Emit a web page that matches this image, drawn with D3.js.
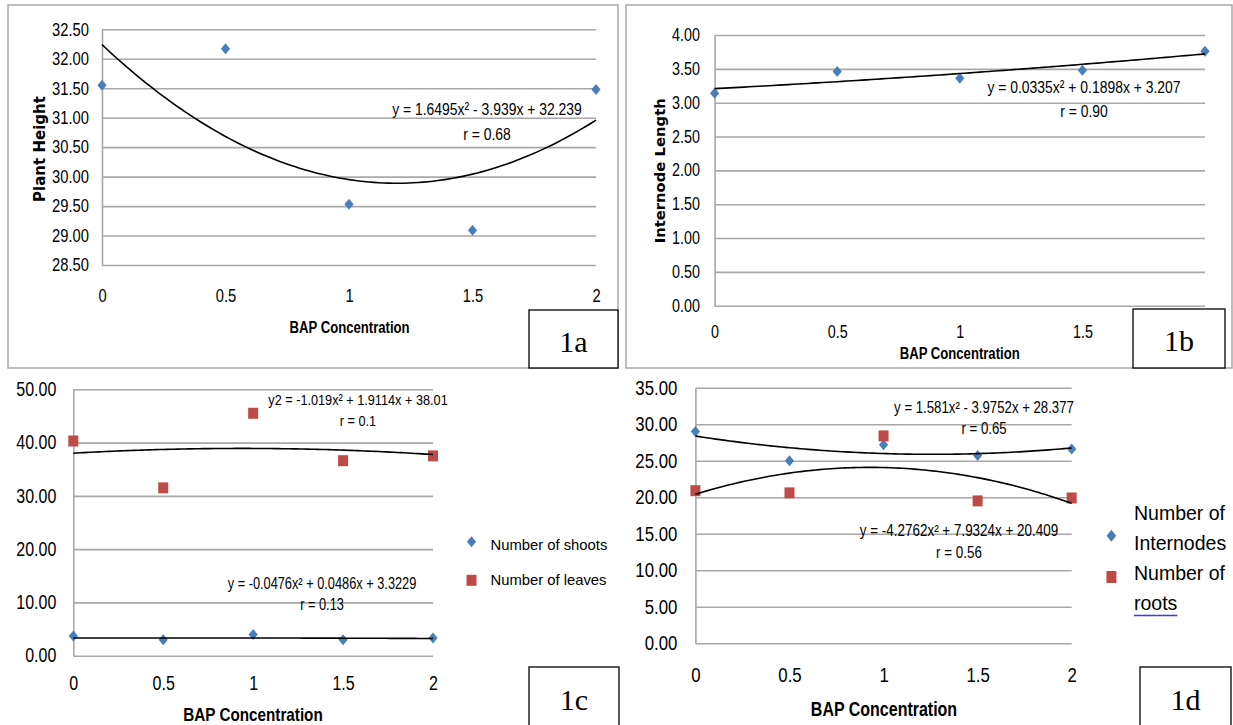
<!DOCTYPE html>
<html>
<head>
<meta charset="utf-8">
<script src="https://cdn.jsdelivr.net/npm/d3@7"></script>
<style>
  body { margin: 0; background: #fff; }
</style>
</head>
<body>
<svg id="fig" width="1233" height="725"></svg>
<script>
// BAP concentration levels (x axis of every panel)
var bapLevels = [0, 0.5, 1, 1.5, 2];

// values
var plantHeight     = [31.55, 32.17, 29.53, 29.09, 31.48];
var internodeLength = [3.14, 3.46, 3.36, 3.48, 3.76];
var shootCount      = [3.7, 3.0, 4.0, 3.0, 3.3];
var leafCount       = [40.3, 31.5, 45.5, 36.6, 37.5];
var internodeCount  = [29.0, 25.0, 27.2, 25.7, 26.6];
var rootCount       = [20.9, 20.6, 28.4, 19.5, 19.9];

// printed polynomial trendlines [a, b, c] for a*x^2 + b*x + c
var fitPlantHeight     = [1.6495, -3.939, 32.239];
var fitInternodeLength = [0.0335, 0.1898, 3.207];
var fitShoots          = [-0.0476, 0.0486, 3.3229];
var fitLeaves          = [-1.019, 1.9114, 38.01];
var fitInternodes      = [1.581, -3.9752, 28.377];
var fitRoots           = [-4.2762, 7.9324, 20.409];

// printed equation labels
var eqPlantHeight     = ["y = 1.6495x² - 3.939x + 32.239", "r = 0.68"];
var eqInternodeLength = ["y = 0.0335x² + 0.1898x + 3.207", "r = 0.90"];
var eqLeaves          = ["y2 = -1.019x² + 1.9114x + 38.01", "r = 0.1"];
var eqShoots          = ["y = -0.0476x² + 0.0486x + 3.3229", "r = 0.13"];
var eqInternodes      = ["y = 1.581x² - 3.9752x + 28.377", "r = 0.65"];
var eqRoots           = ["y = -4.2762x² + 7.9324x + 20.409", "r = 0.56"];

// tick values
var xTicks  = [0, 0.5, 1, 1.5, 2];
var yTicksA = [28.5, 29, 29.5, 30, 30.5, 31, 31.5, 32, 32.5];
var yTicksB = [0, 0.5, 1, 1.5, 2, 2.5, 3, 3.5, 4];
var yTicksC = [0, 10, 20, 30, 40, 50];
var yTicksD = [0, 5, 10, 15, 20, 25, 30, 35];

// no narrow font installed, so squeeze Liberation Sans horizontally
var K = 0.82;
var sans = '"Liberation Sans",Arial,sans-serif';
var blue = "#4a7ebb", red = "#be4b48", grid = "#a8a8a8";

var shapes = {
  diamond: "M0,-5.5L4.6,0L0,5.5L-4.6,0Z",
  square: "M-5,-5.5h10v11h-10Z",
  bigDiamond: "M0,-6L4.8,0L0,6L-4.8,0Z",
  bigSquare: "M-5,-6h10v12h-10Z"
};

var svg = d3.select("#fig");

// gray frames round the top two charts
svg.append("rect").attr("x", 8).attr("y", 5).attr("width", 610).attr("height", 363)
  .attr("fill", "none").attr("stroke", grid).attr("stroke-width", 1.5);
svg.append("rect").attr("x", 626).attr("y", 5).attr("width", 606).attr("height", 363)
  .attr("fill", "none").attr("stroke", grid).attr("stroke-width", 1.5);

function poly(c) { return function(v) { return c[0] * v * v + c[1] * v + c[2]; }; }

// narrow text helper
function ntext(g, x, y, str, size, anchor, bold) {
  return g.append("text")
    .attr("transform", "translate(" + x + "," + y + ") scale(" + K + ",1)")
    .attr("text-anchor", anchor || "middle")
    .attr("font-family", sans).attr("font-size", size)
    .attr("font-weight", bold ? "bold" : null)
    .text(str);
}

function drawPanel(p) {
  var g = svg.append("g");
  var x = d3.scaleLinear().domain([0, 2]).range([p.left, p.right]);
  var y = d3.scaleLinear().domain(d3.extent(p.yTicks)).range([p.bottom, p.top]);

  // y axis with gridlines
  g.append("g")
      .attr("transform", "translate(" + p.left + ",0)")
      .call(d3.axisLeft(y).tickValues(p.yTicks).tickFormat(d3.format(".2f"))
        .tickSize(-(p.right - p.left)).tickSizeOuter(0).tickPadding(p.yPad))
      .attr("font-family", sans).attr("font-size", p.tickSize)
      .call(function(a) {
        a.select(".domain").attr("stroke", grid).attr("stroke-width", 1.6);
        a.selectAll(".tick line").attr("stroke", grid).attr("stroke-width", 1.6);
        a.selectAll("text").attr("fill", "#000")
          .attr("x", -p.yPad / K).attr("transform", "scale(" + K + ",1)");
      });

  // x axis labels only
  g.append("g")
      .attr("transform", "translate(0," + p.bottom + ")")
      .call(d3.axisBottom(x).tickValues(xTicks).tickFormat(d3.format("")).tickSize(0).tickPadding(p.xPad))
      .attr("font-family", sans).attr("font-size", p.tickSize)
      .call(function(a) {
        a.select(".domain").remove();
        a.selectAll("text").attr("fill", "#000").attr("transform", "scale(" + K + ",1)");
      });

  // markers
  p.series.forEach(function(s) {
    g.append("g").selectAll("path")
      .data(d3.zip(bapLevels, s.values))
      .join("path")
        .attr("d", shapes[s.shape])
        .attr("transform", function(d) { return "translate(" + x(d[0]) + "," + y(d[1]) + ")"; })
        .attr("fill", s.color);
  });

  // trendlines
  p.series.forEach(function(s) {
    var f = poly(s.fit);
    g.append("path")
      .datum(d3.range(0, 2.0001, 0.02))
      .attr("fill", "none").attr("stroke", "#000").attr("stroke-width", 1.6)
      .attr("d", d3.line().x(function(v) { return x(v); }).y(function(v) { return y(f(v)); }));
  });

  // equation labels
  p.eqs.forEach(function(e) {
    e.lines.forEach(function(t, i) {
      ntext(g, e.x, e.y[i], t, e.size).attr("dy", "0.35em");
    });
  });

  // axis titles
  ntext(g, p.xTitle.x, p.xTitle.y, "BAP Concentration", p.xTitle.size, "middle", true);

  if (p.yTitle) {
    g.append("text")
      .attr("transform", "translate(" + p.yTitle.x + "," + p.yTitle.y + ") rotate(-90)")
      .attr("text-anchor", "middle").attr("dy", "0.35em")
      .attr("font-family", '"DejaVu Sans",Verdana,sans-serif').attr("font-weight", "bold")
      .attr("font-size", p.yTitle.size)
      .text(p.yTitle.text);
  }

  // legend
  if (p.legend) {
    p.legend.items.forEach(function(it) {
      g.append("path").attr("d", shapes[it.shape])
        .attr("transform", "translate(" + p.legend.mx + "," + it.my + ")")
        .attr("fill", it.color);
      it.lines.forEach(function(t, j) {
        var tx = g.append("text").attr("x", p.legend.tx).attr("y", it.ty[j]).attr("dy", "0.35em")
          .attr("font-family", sans).attr("font-size", p.legend.size).text(t);
        if (it.underline && j === it.lines.length - 1) {
          var w = tx.node().getComputedTextLength();
          g.append("line").attr("x1", p.legend.tx).attr("x2", p.legend.tx + w)
            .attr("y1", it.underline).attr("y2", it.underline)
            .attr("stroke", "#3a3af0").attr("stroke-width", 1.5);
        }
      });
    });
  }

  // panel tag box
  g.append("rect").attr("x", p.box.x).attr("y", p.box.y).attr("width", p.box.w).attr("height", p.box.h)
    .attr("fill", "#fff").attr("stroke", "#000").attr("stroke-width", 1.3);
  g.append("text").attr("x", p.box.x + p.box.w / 2).attr("y", p.box.ty)
    .attr("text-anchor", "middle").attr("font-family", '"Liberation Serif","Times New Roman",serif')
    .attr("font-size", 30).text(p.box.label);
}

drawPanel({
  left: 102, right: 596, top: 29.3, bottom: 265, yTicks: yTicksA,
  tickSize: 18, yPad: 13, xPad: 24.6,
  series: [{ values: plantHeight, fit: fitPlantHeight, shape: "diamond", color: blue }],
  eqs: [{ lines: eqPlantHeight, x: 487, y: [109, 134], size: 17 }],
  xTitle: { x: 349.6, y: 333, size: 16 },
  yTitle: { text: "Plant Height", x: 39.6, y: 149, size: 15 },
  box: { x: 529, y: 310, w: 89, h: 58, ty: 352, label: "1a" }
});

drawPanel({
  left: 714.6, right: 1205, top: 35, bottom: 305.7, yTicks: yTicksB,
  tickSize: 17.5, yPad: 14.6, xPad: 20,
  series: [{ values: internodeLength, fit: fitInternodeLength, shape: "diamond", color: blue }],
  eqs: [{ lines: eqInternodeLength, x: 1084, y: [87, 110.6], size: 17 }],
  xTitle: { x: 959.7, y: 359, size: 16 },
  yTitle: { text: "Internode Length", x: 659.7, y: 170.8, size: 14.8 },
  box: { x: 1133, y: 309, w: 92, h: 59, ty: 351, label: "1b" }
});

drawPanel({
  left: 73.3, right: 433, top: 389.3, bottom: 655.7, yTicks: yTicksC,
  tickSize: 19.5, yPad: 17, xPad: 20.5,
  series: [
    { values: shootCount, fit: fitShoots, shape: "diamond", color: blue },
    { values: leafCount, fit: fitLeaves, shape: "square", color: red }
  ],
  eqs: [
    { lines: eqLeaves, x: 358, y: [400, 421], size: 15.5 },
    { lines: eqShoots, x: 322, y: [584, 605], size: 15.6 }
  ],
  xTitle: { x: 253, y: 721, size: 18.6 },
  legend: {
    mx: 471.5, tx: 490.5, size: 14.8,
    items: [
      { shape: "diamond", color: blue, my: 541.7, lines: ["Number of shoots"], ty: [545] },
      { shape: "square", color: red, my: 580.3, lines: ["Number of leaves"], ty: [580] }
    ]
  },
  box: { x: 529, y: 667, w: 90, h: 70, ty: 710, label: "1c" }
});

drawPanel({
  left: 695.4, right: 1071.7, top: 387.7, bottom: 643.3, yTicks: yTicksD,
  tickSize: 20.5, yPad: 18, xPad: 24,
  series: [
    { values: internodeCount, fit: fitInternodes, shape: "diamond", color: blue },
    { values: rootCount, fit: fitRoots, shape: "square", color: red }
  ],
  eqs: [
    { lines: eqInternodes, x: 984, y: [407.7, 428], size: 16.1 },
    { lines: eqRoots, x: 959, y: [530, 552], size: 16.4 }
  ],
  xTitle: { x: 884, y: 716, size: 19.5 },
  legend: {
    mx: 1111.4, tx: 1134, size: 19.5,
    items: [
      { shape: "bigDiamond", color: blue, my: 535.8, lines: ["Number of", "Internodes"], ty: [513, 543] },
      { shape: "bigSquare", color: red, my: 577, lines: ["Number of", "roots"], ty: [573, 603], underline: 615.5 }
    ]
  },
  box: { x: 1140, y: 667, w: 91, h: 70, ty: 710, label: "1d" }
});
</script>
</body>
</html>
